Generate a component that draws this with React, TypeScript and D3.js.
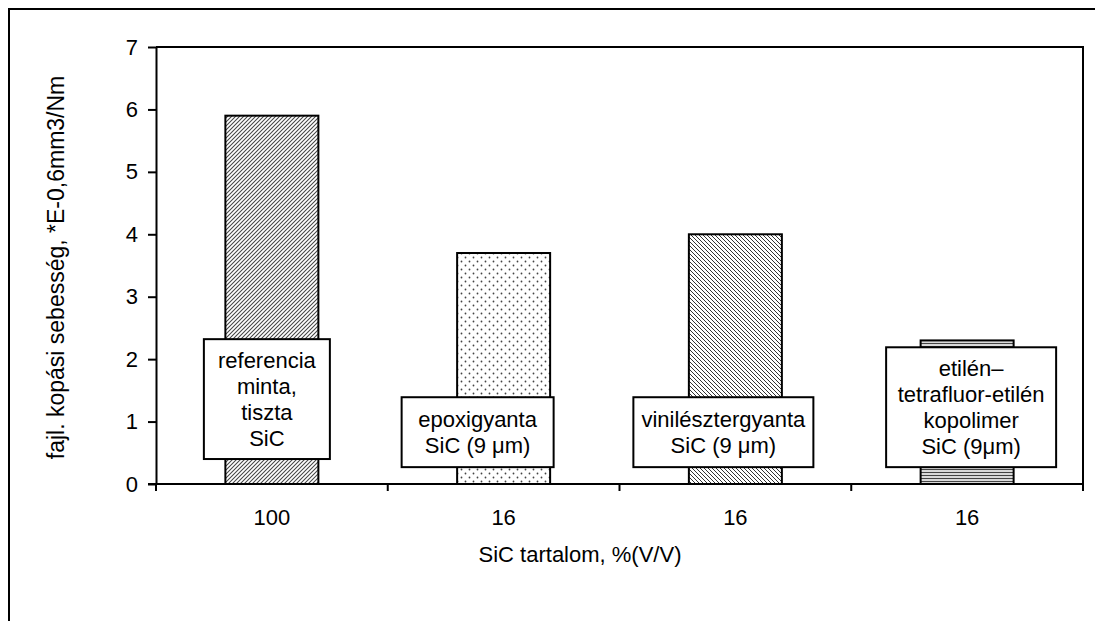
import React, { useEffect, useRef } from 'react';
import * as d3 from 'd3';

// data
const categories = ['100', '16', '16', '16'];
const values = [5.9, 3.7, 4.0, 2.3];
const boxLabels = [
  ['referencia', 'minta,', 'tiszta', 'SiC'],
  ['epoxigyanta', 'SiC (9 \u03bcm)'],
  ['vinilésztergyanta', 'SiC (9 \u03bcm)'],
  ['etilén\u2013', 'tetrafluor-etilén', 'kopolimer', 'SiC (9\u03bcm)'],
];
const yTicks = [0, 1, 2, 3, 4, 5, 6, 7];
const yLabel = 'fajl. kopási sebesség, *E-0,6mm3/Nm';
const xLabel = 'SiC tartalom, %(V/V)';

// layout of the text boxes (offset from band centre in px, top/bottom in axis units)
const boxDx = [-5, -26, -12, 4];
const boxW = [126, 152, 180, 170];
const boxTop = [2.32, 1.39, 1.39, 2.19];
const boxBottom = [0.4, 0.27, 0.27, 0.27];

const patternIds = ['pat-fwd', 'pat-dots', 'pat-back', 'pat-horiz'];
const FONT = "'Liberation Sans', Arial, sans-serif";
const FS = '22px';

const App: React.FC = () => {
  const ref = useRef<SVGSVGElement | null>(null);

  useEffect(() => {
    const width = 1095, height = 621;
    const svg = d3.select(ref.current)
      .attr('width', width)
      .attr('height', height);
    svg.selectAll('*').remove();

    const left = 156, right = 1083, top = 47, bottom = 484;
    const barW = 93;

    const x = d3.scaleBand<number>()
      .domain(d3.range(categories.length))
      .range([left, right])
      .padding(0);
    const y = d3.scaleLinear().domain([0, 7]).range([bottom, top]);

    // patterns
    const defs = svg.append('defs');
    const p1 = defs.append('pattern').attr('id', patternIds[0])
      .attr('patternUnits', 'userSpaceOnUse').attr('width', 4).attr('height', 4);
    p1.append('rect').attr('width', 4).attr('height', 4).attr('fill', '#fff');
    p1.append('path').attr('d', 'M-1,1 l2,-2 M0,4 l4,-4 M3,5 l2,-2')
      .attr('stroke', '#444').attr('stroke-width', 1.05);

    const p2 = defs.append('pattern').attr('id', patternIds[1])
      .attr('patternUnits', 'userSpaceOnUse').attr('width', 8).attr('height', 8);
    p2.append('rect').attr('width', 8).attr('height', 8).attr('fill', '#fff');
    p2.append('circle').attr('cx', 1.5).attr('cy', 1.5).attr('r', 0.9).attr('fill', '#444');
    p2.append('circle').attr('cx', 5.5).attr('cy', 5.5).attr('r', 0.9).attr('fill', '#444');

    const p3 = defs.append('pattern').attr('id', patternIds[2])
      .attr('patternUnits', 'userSpaceOnUse').attr('width', 4).attr('height', 4);
    p3.append('rect').attr('width', 4).attr('height', 4).attr('fill', '#fff');
    p3.append('path').attr('d', 'M-1,3 l2,2 M0,0 l4,4 M3,-1 l2,2')
      .attr('stroke', '#333').attr('stroke-width', 1);

    const p4 = defs.append('pattern').attr('id', patternIds[3])
      .attr('patternUnits', 'userSpaceOnUse').attr('width', 3).attr('height', 3);
    p4.append('rect').attr('width', 3).attr('height', 3).attr('fill', '#fff');
    p4.append('line').attr('x1', 0).attr('x2', 3).attr('y1', 1.5).attr('y2', 1.5)
      .attr('stroke', '#444').attr('stroke-width', 1.4);

    // outer frame (runs off the right and bottom of the picture)
    svg.append('rect')
      .attr('x', 9).attr('y', 9).attr('width', 1200).attr('height', 700)
      .attr('fill', 'none').attr('stroke', '#000').attr('stroke-width', 2);

    // bars
    values.forEach((v, i) => {
      svg.append('rect')
        .attr('x', (x(i) as number) + (x.bandwidth() - barW) / 2)
        .attr('y', y(v))
        .attr('width', barW)
        .attr('height', y(0) - y(v))
        .attr('fill', `url(#${patternIds[i]})`)
        .attr('stroke', '#000')
        .attr('stroke-width', 2);
    });

    // plot frame top + right
    svg.append('path')
      .attr('d', `M${left},${top}H${right}V${bottom + 7}`)
      .attr('fill', 'none').attr('stroke', '#000').attr('stroke-width', 2);

    // y axis
    const yAxis = svg.append('g')
      .attr('transform', `translate(${left},0)`)
      .call(d3.axisLeft(y).tickValues(yTicks).tickFormat(d3.format('d'))
        .tickSize(8).tickSizeOuter(0).tickPadding(10));
    yAxis.select('.domain').attr('stroke-width', 2);
    yAxis.selectAll('.tick line').attr('stroke-width', 2);
    yAxis.selectAll('text').style('font-family', FONT).style('font-size', FS).attr('fill', '#000');

    // x axis
    svg.append('line')
      .attr('x1', left - 8).attr('x2', right)
      .attr('y1', bottom).attr('y2', bottom)
      .attr('stroke', '#000').attr('stroke-width', 2);
    d3.range(categories.length + 1).forEach(i => {
      const tx = left + i * x.step();
      svg.append('line')
        .attr('x1', tx).attr('x2', tx)
        .attr('y1', bottom).attr('y2', bottom + 7)
        .attr('stroke', '#000').attr('stroke-width', 2);
    });
    categories.forEach((c, i) => {
      svg.append('text')
        .attr('x', (x(i) as number) + x.bandwidth() / 2)
        .attr('y', bottom + 41)
        .attr('text-anchor', 'middle')
        .style('font-family', FONT).style('font-size', FS)
        .text(c);
    });

    // text boxes
    boxLabels.forEach((lines, i) => {
      const cx = (x(i) as number) + x.bandwidth() / 2 + boxDx[i];
      const y0 = y(boxTop[i]), y1 = y(boxBottom[i]);
      svg.append('rect')
        .attr('x', cx - boxW[i] / 2).attr('y', y0)
        .attr('width', boxW[i]).attr('height', y1 - y0)
        .attr('fill', '#fff').attr('stroke', '#000').attr('stroke-width', 2);
      const lh = 26;
      const mid = (y0 + y1) / 2;
      lines.forEach((t, j) => {
        svg.append('text')
          .attr('x', cx)
          .attr('y', mid + (j - (lines.length - 1) / 2) * lh)
          .attr('dy', '0.36em')
          .attr('text-anchor', 'middle')
          .style('font-family', FONT).style('font-size', FS)
          .text(t);
      });
    });

    // axis titles
    svg.append('text')
      .attr('transform', `translate(64,${(top + bottom) / 2 + 2}) rotate(-90)`)
      .attr('text-anchor', 'middle')
      .style('font-family', FONT).style('font-size', '23px')
      .text(yLabel);

    svg.append('text')
      .attr('x', 580).attr('y', 562)
      .attr('text-anchor', 'middle')
      .style('font-family', FONT).style('font-size', FS)
      .text(xLabel);
  }, []);

  return (
    <svg ref={ref} style={{ position: 'absolute', left: 0, top: 0, background: '#fff' }}></svg>
  );
};

export default App;
